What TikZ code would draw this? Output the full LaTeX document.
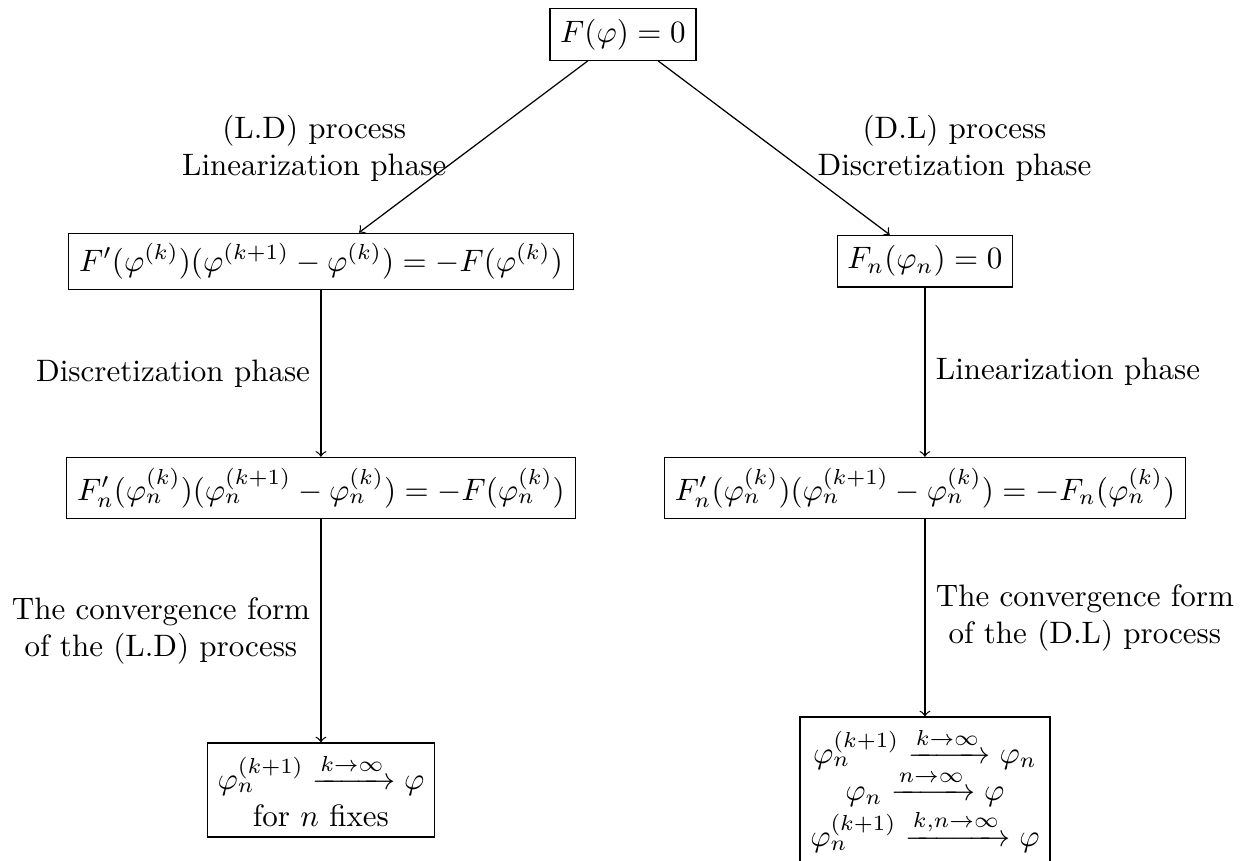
\documentclass[tikz,border=0pt]{standalone}
\usepackage{amsmath}
\usetikzlibrary{positioning}

\begin{document}
\begin{tikzpicture}[
    kasten/.style={draw, thin},
    pfeil/.style={->, thin}
  ]
    % Parameter für die Abstände
    \def\dx{3.424}
    \def\zeileA{-2.57}
    \def\zeileB{-5.14}
    \def\zeileC{-8.566}

    % Bildausschnitt festlegen
    \useasboundingbox (-7.063,0.391) rectangle (7.087,-9.371);

    % ==========================================
    % OBEN: Ausgangsgleichung
    % ==========================================
    \node[kasten] (start) at (0,0) {$F(\varphi) = 0$};

    % ==========================================
    % LINKER ZWEIG: (L.D) Prozess
    % ==========================================
    \node[kasten] (ldA) at (-\dx,\zeileA)
        {$F'(\varphi^{(k)})(\varphi^{(k+1)} - \varphi^{(k)}) = -F(\varphi^{(k)})$};
    \node[kasten] (ldB) at (-\dx,\zeileB)
        {$F'_n(\varphi_n^{(k)})(\varphi_n^{(k+1)} - \varphi_n^{(k)}) = -F(\varphi_n^{(k)})$};
    \node[kasten, align=center] (ldC) at (-\dx,\zeileC)
        {$\varphi_n^{(k+1)} \xrightarrow{k\to\infty} \varphi$\\ for $n$ fixes};

    % Beschriftung am schrägen Pfeil
    \node[align=center] (ldText) at (-3.50,-1.29) {(L.D) process\\ Linearization phase};

    % Pfeile links
    \draw[pfeil] (start) -- (ldA);
    \draw[pfeil] (ldA) -- node[left] {Discretization phase} (ldB);
    \draw[pfeil] (ldB) -- node[left, align=center]
        {The convergence form\\ of the (L.D) process} (ldC);

    % ==========================================
    % RECHTER ZWEIG: (D.L) Prozess
    % ==========================================
    \node[kasten] (dlA) at (\dx,\zeileA) {$F_n(\varphi_n) = 0$};
    \node[kasten] (dlB) at (\dx,\zeileB)
        {$F'_n(\varphi_n^{(k)})(\varphi_n^{(k+1)} - \varphi_n^{(k)}) = -F_n(\varphi_n^{(k)})$};
    \node[kasten, align=center] (dlC) at (\dx,\zeileC)
        {$\varphi_n^{(k+1)} \xrightarrow{k\to\infty} \varphi_n$\\
         $\varphi_n \xrightarrow{n\to\infty} \varphi$\\
         $\varphi_n^{(k+1)} \xrightarrow{k,n\to\infty} \varphi$};

    % Beschriftung am schrägen Pfeil
    \node[align=center] (dlText) at (3.76,-1.29) {(D.L) process\\ Discretization phase};

    % Pfeile rechts
    \draw[pfeil] (start) -- (dlA);
    \draw[pfeil] (dlA) -- node[right] {Linearization phase} (dlB);
    \draw[pfeil] (dlB) -- node[right, align=center]
        {The convergence form\\ of the (D.L) process} (dlC);

\end{tikzpicture}
\end{document}
